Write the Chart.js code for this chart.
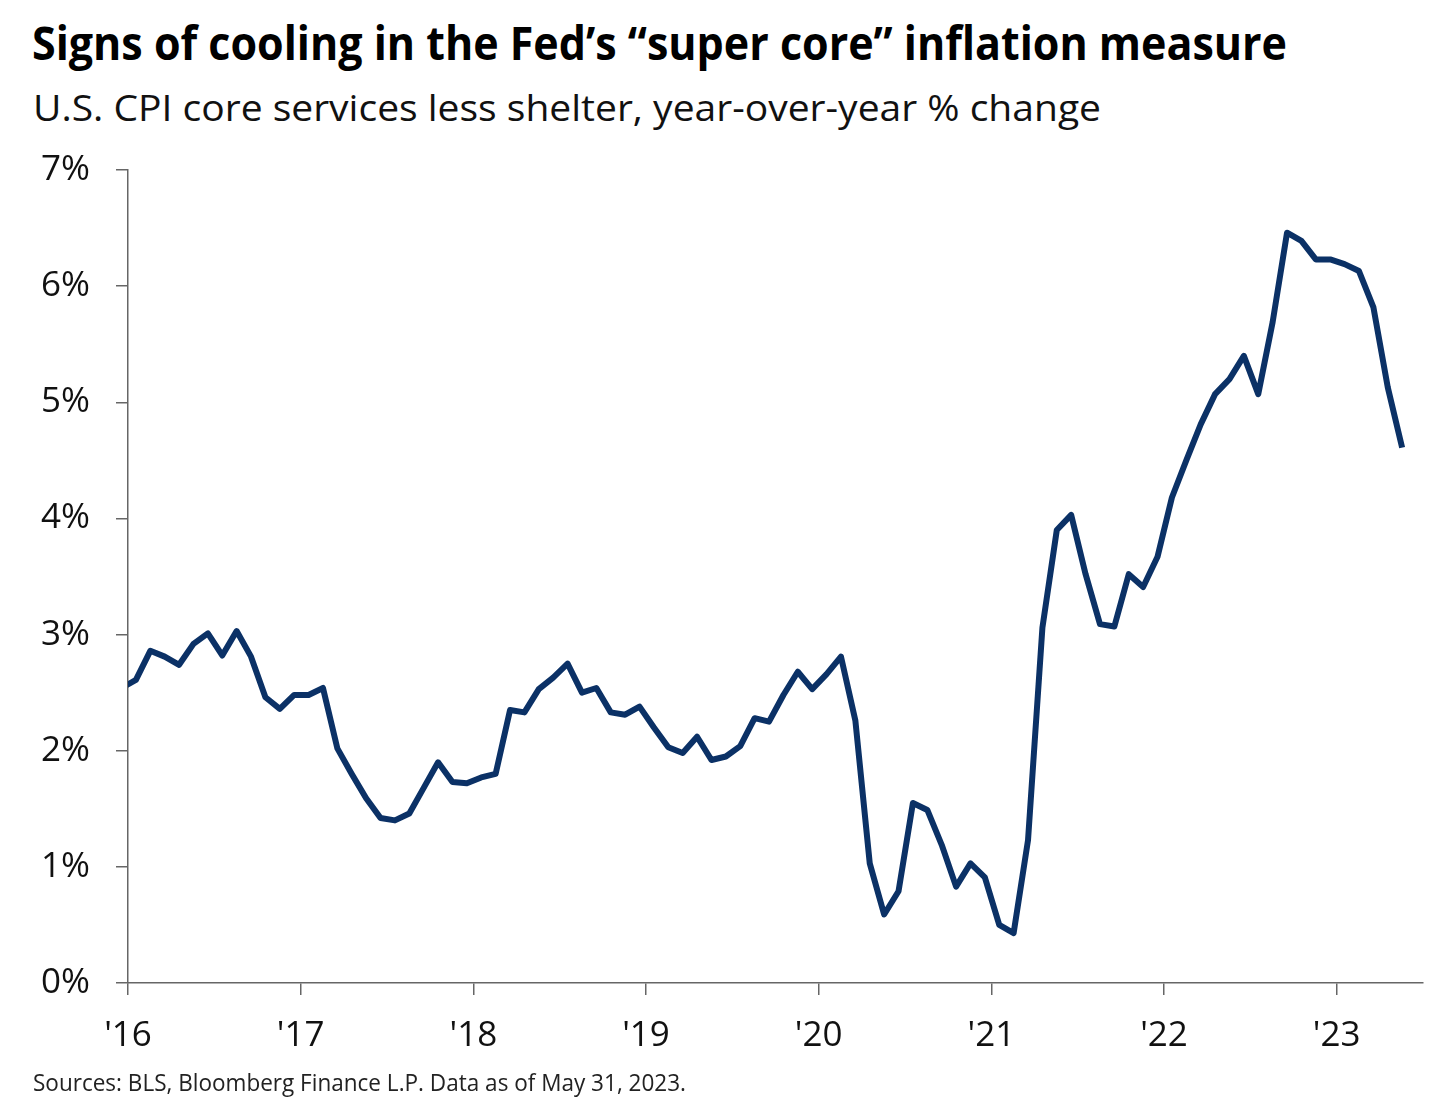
<!DOCTYPE html>
<html>
<head>
<meta charset="utf-8">
<script src="https://cdn.jsdelivr.net/npm/chart.js@4.4.0/dist/chart.umd.min.js"></script>
<style>
    body { margin: 0; background: #fff; width: 1440px; height: 1120px; overflow: hidden; position: relative; font-family: "Open Sans", sans-serif; color: #111; }
    .txt { position: absolute; white-space: nowrap; transform-origin: 0 0; line-height: 1; }
    #title { left: 32px; top: 19px; font-size: 47px; font-weight: 700; color: #000; }
    #subtitle { left: 33px; top: 88px; font-size: 37px; font-weight: 400; }
    #note { left: 33px; top: 1070px; font-size: 24px; color: #222; }
    #chart-container { position: absolute; left: 0; top: 123px; width: 1440px; height: 947px; }
</style>
</head>
<body>
<div id="title" class="txt">Signs of cooling in the Fed’s “super core” inflation measure</div>
<div id="subtitle" class="txt">U.S. CPI core services less shelter, year-over-year % change</div>
<div id="chart-container"><canvas id="myChart"></canvas></div>
<div id="note" class="txt">Sources: BLS, Bloomberg Finance L.P. Data as of May 31, 2023.</div>

<script>
// monthly readings, Dec 2015 through May 2023 (the first one sits left of the axis and is clipped)
var firstMonth = -1   // Dec 2015, counted in months from Jan 2016
var superCore = [
    2.54,
    2.61, 2.86, 2.81, 2.74, 2.92, 3.01, 2.82, 3.03, 2.81, 2.46, 2.36, 2.48,
    2.48, 2.54, 2.02, 1.80, 1.59, 1.42, 1.40, 1.46, 1.68, 1.90, 1.73, 1.72,
    1.77, 1.80, 2.35, 2.33, 2.53, 2.63, 2.75, 2.50, 2.54, 2.33, 2.31, 2.38,
    2.20, 2.03, 1.98, 2.12, 1.92, 1.95, 2.04, 2.28, 2.25, 2.48, 2.68, 2.53,
    2.66, 2.81, 2.26, 1.03, 0.59, 0.79, 1.55, 1.49, 1.19, 0.83, 1.03, 0.91,
    0.50, 0.43, 1.23, 3.06, 3.90, 4.03, 3.52, 3.09, 3.07, 3.52, 3.41, 3.67,
    4.18, 4.50, 4.81, 5.07, 5.20, 5.40, 5.07, 5.69, 6.46, 6.39, 6.23, 6.23,
    6.19, 6.13, 5.82, 5.13, 4.61
]
var yearLabels = ["'16", "'17", "'18", "'19", "'20", "'21", "'22", "'23"]
var yTicks = [0, 1, 2, 3, 4, 5, 6, 7]

function fitText(id, width) {
    var el = document.getElementById(id)
    el.style.transform = 'none'
    var w = el.getBoundingClientRect().width
    el.style.transform = 'scaleX(' + (width / w) + ')'
}

function fitAll() {
    fitText('title', 1255)
    fitText('subtitle', 1068)
    fitText('note', 653)
}

function buildPoints() {
    var points = []
    for (var i = 0; i < superCore.length; i++)
    {
        // readings are plotted mid-month
        points.push({ x: firstMonth + i + 0.55, y: superCore[i] })
    }
    return points
}

var axisColor = '#666'
var tickFont = { family: 'Open Sans', size: 35 }

function createGraph() {
    const ctx = document.getElementById('myChart')
    const myChart = new Chart(ctx, {
        type: 'line',
        data: {
            datasets: [{
                data: buildPoints(),
                borderColor: '#0B3166',
                borderWidth: 6,
                borderJoinStyle: 'round',
                pointRadius: 0,
                tension: 0,
                clip: { left: 0, top: 10, right: 10, bottom: 10 }
            }]
        },
        options: {
            responsive: true,
            maintainAspectRatio: false,
            animation: false,
            layout: { padding: { top: 32, right: 17, left: 0, bottom: 0 } },
            scales: {
                x: {
                    type: 'linear',
                    min: 0,
                    max: 90,
                    afterBuildTicks: function (scale) {
                        scale.ticks = yearLabels.map(function (l, i) { return { value: i * 12 } })
                    },
                    afterFit: function (scale) { scale.height = 87 },
                    ticks: {
                        color: '#111',
                        font: tickFont,
                        padding: 20,
                        maxRotation: 0,
                        autoSkip: false,
                        callback: function (value) { return yearLabels[Math.round(value / 12)] }
                    },
                    grid: { drawOnChartArea: false, drawTicks: true, tickLength: 12, color: axisColor, lineWidth: 1.5 },
                    border: { display: true, color: axisColor, width: 1.5 }
                },
                y: {
                    min: 0,
                    max: 7,
                    afterBuildTicks: function (scale) {
                        scale.ticks = yTicks.map(function (v) { return { value: v } })
                    },
                    afterFit: function (scale) { scale.width = 128 },
                    ticks: {
                        color: '#111',
                        font: tickFont,
                        padding: 26,
                        callback: function (value) { return value + '%' }
                    },
                    grid: { drawOnChartArea: false, drawTicks: true, tickLength: 12, color: axisColor, lineWidth: 1.5 },
                    border: { display: true, color: axisColor, width: 1.5 }
                }
            },
            plugins: {
                legend: { display: false },
                tooltip: { enabled: false }
            }
        }
    })
}

fitAll()
createGraph()
if (document.fonts) document.fonts.ready.then(fitAll)
</script>
</body>
</html>
